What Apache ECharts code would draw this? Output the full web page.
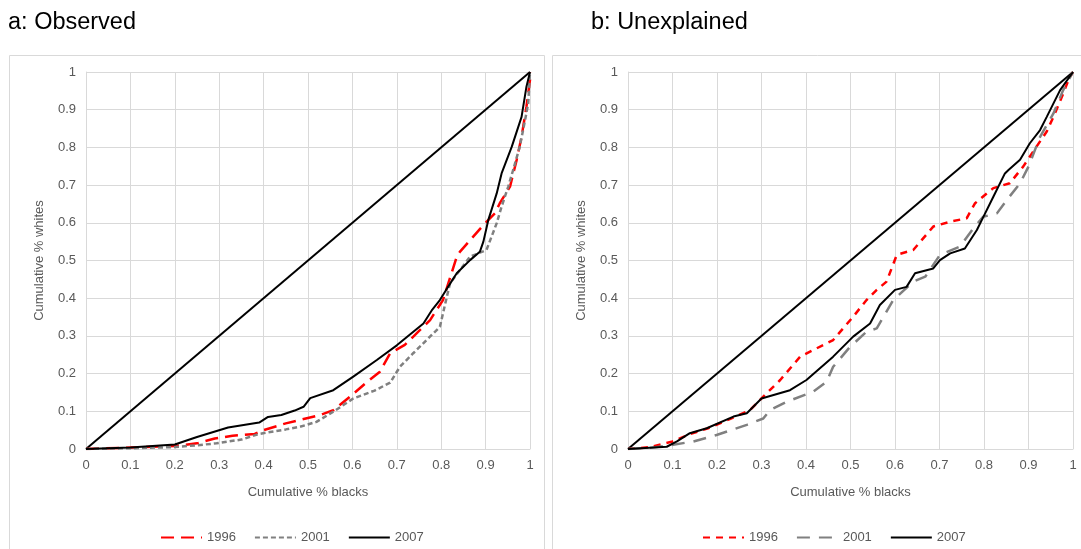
<!DOCTYPE html>
<html>
<head>
<meta charset="utf-8">
<script src="https://cdn.jsdelivr.net/npm/echarts@6/dist/echarts.min.js"></script>
<style>
  html, body { margin: 0; padding: 0; background: #fff; }
  #Chart { width: 1081px; height: 549px; }
</style>
</head>
<body>
<div id="Chart"></div>
<script>
// [x, y] pairs
var equality = [[0, 0], [1, 1]];

var obs1996 = [[0,0],[0.1,0.004],[0.2,0.008],[0.25,0.015],[0.29,0.028],[0.33,0.035],[0.38,0.04],[0.4,0.05],[0.45,0.068],[0.482,0.077],[0.527,0.09],[0.557,0.103],[0.595,0.139],[0.63,0.175],[0.662,0.205],[0.685,0.254],[0.718,0.276],[0.775,0.342],[0.804,0.395],[0.835,0.51],[0.842,0.523],[0.895,0.594],[0.921,0.625],[0.932,0.652],[0.955,0.696],[0.97,0.767],[0.981,0.828],[0.992,0.908],[1,0.979],[1,1]];
var obs2001 = [[0,0],[0.1,0.002],[0.2,0.005],[0.25,0.01],[0.294,0.015],[0.35,0.025],[0.39,0.04],[0.45,0.052],[0.482,0.059],[0.519,0.072],[0.557,0.099],[0.602,0.134],[0.65,0.155],[0.685,0.176],[0.707,0.218],[0.737,0.254],[0.797,0.324],[0.81,0.39],[0.82,0.44],[0.865,0.51],[0.902,0.528],[0.925,0.599],[0.936,0.643],[0.951,0.696],[0.962,0.74],[0.977,0.802],[0.989,0.873],[0.996,0.917],[1,1]];
var obs2007 = [[0,0],[0.1,0.004],[0.2,0.012],[0.25,0.032],[0.32,0.057],[0.39,0.07],[0.41,0.085],[0.44,0.09],[0.47,0.102],[0.49,0.112],[0.505,0.135],[0.557,0.156],[0.602,0.192],[0.655,0.236],[0.7,0.275],[0.76,0.333],[0.78,0.37],[0.797,0.395],[0.81,0.42],[0.835,0.466],[0.865,0.501],[0.887,0.523],[0.895,0.55],[0.906,0.607],[0.925,0.678],[0.936,0.731],[0.959,0.802],[0.981,0.881],[0.992,0.961],[1,1]];

var unx1996 = [[0,0],[0.05,0.005],[0.1,0.02],[0.14,0.04],[0.18,0.055],[0.23,0.08],[0.274,0.103],[0.304,0.139],[0.342,0.183],[0.387,0.245],[0.424,0.267],[0.461,0.289],[0.506,0.351],[0.536,0.395],[0.559,0.422],[0.581,0.444],[0.604,0.515],[0.641,0.528],[0.686,0.59],[0.724,0.603],[0.761,0.612],[0.78,0.652],[0.821,0.692],[0.858,0.705],[0.888,0.749],[0.918,0.802],[0.941,0.842],[0.956,0.881],[0.975,0.934],[0.99,0.979],[1,1]];
var unx2001 = [[0,0],[0.05,0.003],[0.094,0.01],[0.147,0.02],[0.199,0.037],[0.267,0.064],[0.304,0.081],[0.319,0.103],[0.356,0.125],[0.416,0.152],[0.446,0.178],[0.461,0.218],[0.499,0.271],[0.536,0.311],[0.559,0.32],[0.596,0.395],[0.641,0.444],[0.668,0.457],[0.701,0.515],[0.746,0.537],[0.776,0.585],[0.798,0.616],[0.829,0.625],[0.851,0.66],[0.881,0.705],[0.9,0.749],[0.926,0.828],[0.956,0.89],[0.978,0.952],[0.99,0.979],[1,1]];
var unx2007 = [[0,0],[0.087,0.006],[0.11,0.02],[0.139,0.042],[0.177,0.055],[0.237,0.086],[0.267,0.095],[0.3,0.134],[0.364,0.156],[0.401,0.183],[0.461,0.245],[0.506,0.298],[0.544,0.333],[0.566,0.382],[0.6,0.422],[0.626,0.43],[0.645,0.466],[0.686,0.479],[0.701,0.501],[0.724,0.519],[0.757,0.532],[0.784,0.581],[0.795,0.607],[0.821,0.669],[0.847,0.731],[0.855,0.74],[0.881,0.767],[0.903,0.811],[0.926,0.846],[0.941,0.881],[0.971,0.952],[1,1]];

var years = ['1996', '2001', '2007'];

var Chart = echarts.init(document.getElementById('Chart'));

var font = 'Liberation Sans, Arial, sans-serif';
var textGrey = '#595959';
var gridGrey = '#d9d9d9';

function makeX(idx) {
    return {
        type: 'value', gridIndex: idx, min: 0, max: 1, interval: 0.1,
        name: 'Cumulative % blacks', nameLocation: 'middle', nameGap: 37,
        nameTextStyle: {color: textGrey, fontSize: 13, fontFamily: font},
        axisLine: {show: true, lineStyle: {color: gridGrey, width: 1}},
        axisTick: {show: false},
        axisLabel: {color: textGrey, fontSize: 13, fontFamily: font, margin: 10},
        splitLine: {show: true, lineStyle: {color: gridGrey, width: 1}}
    };
}

function makeY(idx) {
    return {
        type: 'value', gridIndex: idx, min: 0, max: 1, interval: 0.1,
        name: 'Cumulative % whites', nameLocation: 'middle', nameGap: 40,
        nameTextStyle: {color: textGrey, fontSize: 13, fontFamily: font},
        axisLine: {show: true, lineStyle: {color: gridGrey, width: 1}},
        axisTick: {show: false},
        axisLabel: {color: textGrey, fontSize: 13, fontFamily: font, margin: 10},
        splitLine: {show: true, lineStyle: {color: gridGrey, width: 1}}
    };
}

function line(name, idx, data, color, type, width) {
    return {
        name: name, type: 'line', xAxisIndex: idx, yAxisIndex: idx,
        data: data, symbol: 'none', showSymbol: false, smooth: false,
        lineStyle: {color: color, type: type, width: width},
        itemStyle: {color: color},
        z: 3
    };
}

function legendFor(prefix, left) {
    return {
        left: left, top: 526, itemWidth: 41, itemHeight: 12, itemGap: 18,
        textStyle: {color: textGrey, fontSize: 13, fontFamily: font},
        itemStyle: {opacity: 0},
        data: years.map(function (y) { return {name: prefix + y}; }),
        formatter: function (n) { return n.slice(1); }
    };
}

var option = {
    animation: false,
    textStyle: {fontFamily: font},
    graphic: [
        {type: 'rect', shape: {x: 9.5, y: 55.5, width: 535, height: 520}, style: {fill: 'none', stroke: gridGrey, lineWidth: 1}, z: -1},
        {type: 'rect', shape: {x: 552.5, y: 55.5, width: 540, height: 520}, style: {fill: 'none', stroke: gridGrey, lineWidth: 1}, z: -1},
        {type: 'text', left: 8, top: 11, style: {text: 'a: Observed', fontSize: 23.5, fontFamily: font, fill: '#000'}},
        {type: 'text', left: 591, top: 11, style: {text: 'b: Unexplained', fontSize: 23.5, fontFamily: font, fill: '#000'}}
    ],
    grid: [
        {left: 86, top: 72, width: 444, height: 377},
        {left: 628, top: 72, width: 445, height: 377}
    ],
    xAxis: [makeX(0), makeX(1)],
    yAxis: [makeY(0), makeY(1)],
    legend: [legendFor('a', 155), legendFor('b', 697)],
    series: [
        line('aEq', 0, equality, '#000', 'solid', 2),
        line('a' + years[0], 0, obs1996, '#ff0000', [13, 7], 2.5),
        line('a' + years[1], 0, obs2001, '#808080', [5, 3], 2.5),
        line('a' + years[2], 0, obs2007, '#000', 'solid', 2),
        line('bEq', 1, equality, '#000', 'solid', 2),
        line('b' + years[0], 1, unx1996, '#ff0000', [7, 6], 2.5),
        line('b' + years[1], 1, unx2001, '#808080', [13, 9], 2.5),
        line('b' + years[2], 1, unx2007, '#000', 'solid', 2)
    ]
};

Chart.setOption(option);

window.addEventListener('resize', function () {
    Chart.resize();
});
</script>
</body>
</html>
